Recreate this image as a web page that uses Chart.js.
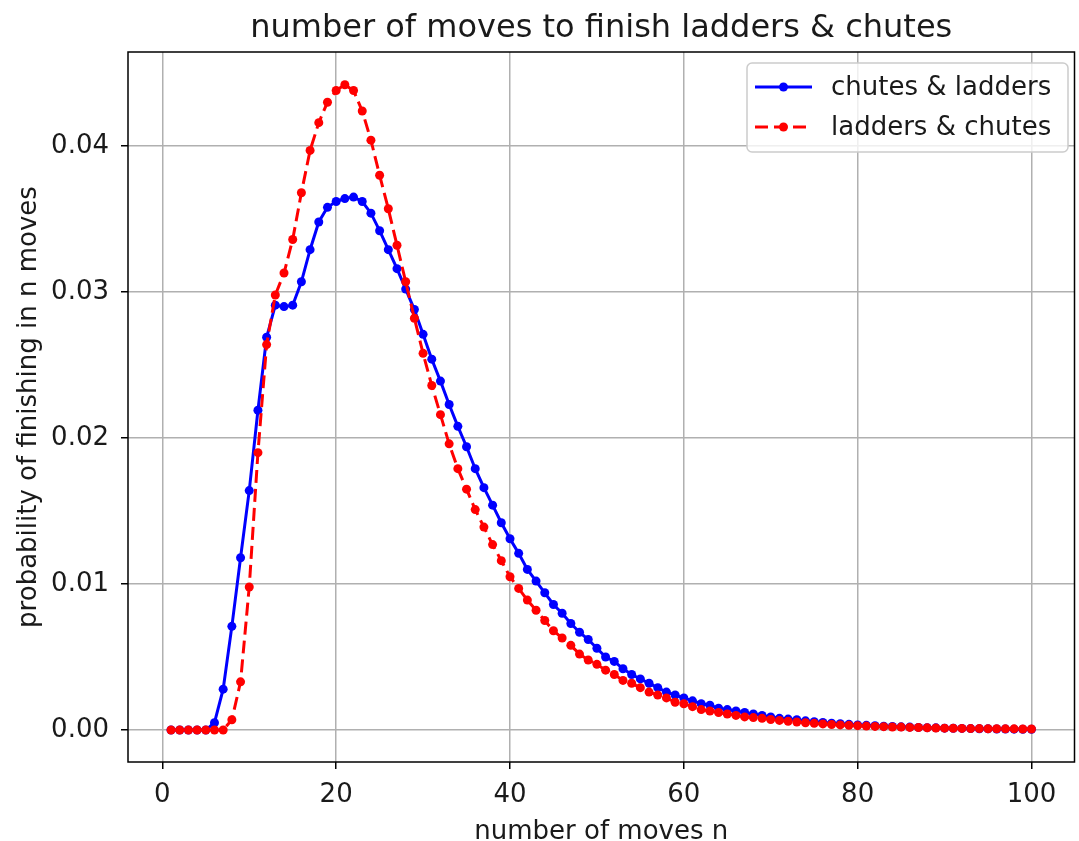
<!DOCTYPE html>
<html>
<head>
<meta charset="utf-8">
<script src="https://cdn.jsdelivr.net/npm/chart.js@4/dist/chart.umd.min.js"></script>
<style>
  html, body { margin: 0; padding: 0; background: #fff; }
  canvas { display: block; }
</style>
</head>
<body>
<canvas id="c" width="1079" height="841"></canvas>
<script>
const titleText = "number of moves to finish ladders & chutes";
const xTitle = "number of moves n";
const yTitle = "probability of finishing in n moves";
const seriesNames = ["chutes & ladders", "ladders & chutes"];

const moves = [1,2,3,4,5,6,7,8,9,10,11,12,13,14,15,16,17,18,19,20,
  21,22,23,24,25,26,27,28,29,30,31,32,33,34,35,36,37,38,39,40,
  41,42,43,44,45,46,47,48,49,50,51,52,53,54,55,56,57,58,59,60,
  61,62,63,64,65,66,67,68,69,70,71,72,73,74,75,76,77,78,79,80,
  81,82,83,84,85,86,87,88,89,90,91,92,93,94,95,96,97,98,99,100];

const chutesLadders = [0,0,0,0,0,0.0005,0.0028,0.0071,0.0118,0.0164,
  0.0219,0.0269,0.0291,0.0290,0.0291,0.0307,0.0329,0.0348,0.0358,0.0362,
  0.0364,0.0365,0.0362,0.0354,0.0342,0.0329,0.0316,0.0302,0.0288,0.0271,
  0.0254,0.0239,0.0223,0.0208,0.0194,0.0179,0.0166,0.0154,0.0142,0.0131,
  0.0121,0.0110,0.0102,0.0094,0.0086,0.0080,0.0073,0.0067,0.0062,0.0056,
  0.0050,0.0047,0.0042,0.0038,0.0035,0.0032,0.0029,0.0026,0.0024,0.0022,
  0.0020,0.0018,0.0017,0.0015,0.0014,0.0013,0.0012,0.0011,0.0010,0.0009,
  0.0008,0.00075,0.0007,0.00063,0.00057,0.00052,0.00047,0.00043,0.00039,0.00035,
  0.00032,0.00029,0.00026,0.00024,0.00022,0.0002,0.00018,0.00016,0.00015,0.00013,
  0.00012,0.00011,0.0001,0.00009,0.00008,0.00007,0.00007,0.00006,0.00005,0.00005];

const laddersChutes = [0,0,0,0,0,0,0,0.0007,0.0033,0.0098,
  0.0190,0.0264,0.0298,0.0313,0.0336,0.0368,0.0397,0.0416,0.0430,0.0438,
  0.0442,0.0438,0.0424,0.0404,0.0380,0.0357,0.0332,0.0307,0.0282,0.0258,
  0.0236,0.0216,0.0196,0.0179,0.0165,0.0151,0.0139,0.0127,0.0116,0.0105,
  0.0097,0.0089,0.0082,0.0075,0.0068,0.0063,0.0058,0.0052,0.0048,0.0045,
  0.0041,0.0038,0.0034,0.0032,0.0029,0.0026,0.0024,0.0022,0.0019,0.0018,
  0.0016,0.0014,0.0013,0.0012,0.0011,0.0010,0.0009,0.00085,0.0008,0.00072,
  0.00066,0.0006,0.00055,0.0005,0.00046,0.00042,0.00038,0.00035,0.00032,0.0003,
  0.00027,0.00025,0.00023,0.00021,0.0002,0.00018,0.00017,0.00015,0.00014,0.00013,
  0.00012,0.00011,0.0001,0.0001,0.00009,0.00009,0.00008,0.00008,0.00007,0.00007];

const xTicks = [0, 20, 40, 60, 80, 100];
const yTicks = [0, 0.01, 0.02, 0.03, 0.04];

const FONT = "'DejaVu Sans', sans-serif";
const TEXT = '#1a1a1a';

const frameAndText = {
  id: 'frameAndText',
  afterDraw(chart) {
    const ctx = chart.ctx;
    const a = chart.chartArea;
    ctx.save();
    // frame
    ctx.strokeStyle = '#000';
    ctx.lineWidth = 1.5;
    ctx.strokeRect(a.left, a.top, a.right - a.left, a.bottom - a.top);
    // title
    ctx.fillStyle = TEXT;
    ctx.font = "32px " + FONT;
    ctx.textAlign = 'center';
    ctx.textBaseline = 'alphabetic';
    ctx.fillText(titleText, (a.left + a.right) / 2, 37);
    // x title
    ctx.font = "26px " + FONT;
    ctx.fillText(xTitle, (a.left + a.right) / 2, 839);
    // y title
    ctx.save();
    ctx.translate(36, (a.top + a.bottom) / 2);
    ctx.rotate(-Math.PI / 2);
    ctx.fillText(yTitle, 0, 0);
    ctx.restore();
    // legend
    const lx = 747, ly = 63, lw = 321, lh = 89;
    ctx.beginPath();
    ctx.roundRect(lx, ly, lw, lh, 5);
    ctx.fillStyle = 'rgba(255,255,255,0.8)';
    ctx.fill();
    ctx.strokeStyle = '#cccccc';
    ctx.lineWidth = 1.5;
    ctx.stroke();
    const rows = [87, 127];
    chart.data.datasets.forEach((ds, i) => {
      const y = rows[i];
      ctx.save();
      ctx.strokeStyle = ds.borderColor;
      ctx.lineWidth = ds.borderWidth;
      ctx.setLineDash(ds.borderDash || []);
      ctx.beginPath();
      ctx.moveTo(755, y);
      ctx.lineTo(812, y);
      ctx.stroke();
      ctx.setLineDash([]);
      ctx.fillStyle = ds.backgroundColor;
      ctx.beginPath();
      ctx.arc(783.5, y, ds.pointRadius, 0, Math.PI * 2);
      ctx.fill();
      ctx.restore();
      ctx.fillStyle = TEXT;
      ctx.font = "26px " + FONT;
      ctx.textAlign = 'left';
      ctx.textBaseline = 'middle';
      ctx.fillText(ds.label, 831, y + 1);
    });
    ctx.restore();
  }
};

new Chart(document.getElementById('c'), {
  type: 'line',
  data: {
    datasets: [
      {
        label: seriesNames[0],
        data: moves.map((n, i) => ({ x: n, y: chutesLadders[i] })),
        borderColor: '#0000ff',
        backgroundColor: '#0000ff',
        borderWidth: 3,
        pointRadius: 4.5,
        pointBorderWidth: 0,
        pointHoverRadius: 4.5,
        tension: 0,
        order: 2
      },
      {
        label: seriesNames[1],
        data: moves.map((n, i) => ({ x: n, y: laddersChutes[i] })),
        borderColor: '#ff0000',
        backgroundColor: '#ff0000',
        borderWidth: 3,
        borderDash: [13, 6],
        pointRadius: 4.5,
        pointBorderWidth: 0,
        pointHoverRadius: 4.5,
        tension: 0,
        order: 1
      }
    ]
  },
  options: {
    responsive: false,
    animation: false,
    devicePixelRatio: 1,
    layout: { padding: { left: 0, right: 2, top: 52, bottom: 0 } },
    plugins: {
      legend: { display: false },
      title: { display: false },
      tooltip: { enabled: false }
    },
    scales: {
      x: {
        type: 'linear',
        min: -3.95,
        max: 104.95,
        afterBuildTicks: s => { s.ticks = xTicks.map(v => ({ value: v })); },
        afterFit: s => { s.height = 79; },
        grid: { color: '#b0b0b0', lineWidth: 1.5, tickColor: '#000', tickLength: 7 },
        border: { display: false },
        ticks: {
          color: TEXT,
          font: { family: FONT, size: 26 },
          padding: 11,
          maxRotation: 0,
          callback: v => String(v)
        }
      },
      y: {
        type: 'linear',
        min: -0.00219,
        max: 0.04644,
        afterBuildTicks: s => { s.ticks = yTicks.map(v => ({ value: v })); },
        afterFit: s => { s.width = 128; },
        grid: { color: '#b0b0b0', lineWidth: 1.5, tickColor: '#000', tickLength: 7 },
        border: { display: false },
        ticks: {
          color: TEXT,
          font: { family: FONT, size: 26 },
          padding: 12,
          callback: v => v.toFixed(2)
        }
      }
    }
  },
  plugins: [frameAndText]
});
</script>
</body>
</html>
